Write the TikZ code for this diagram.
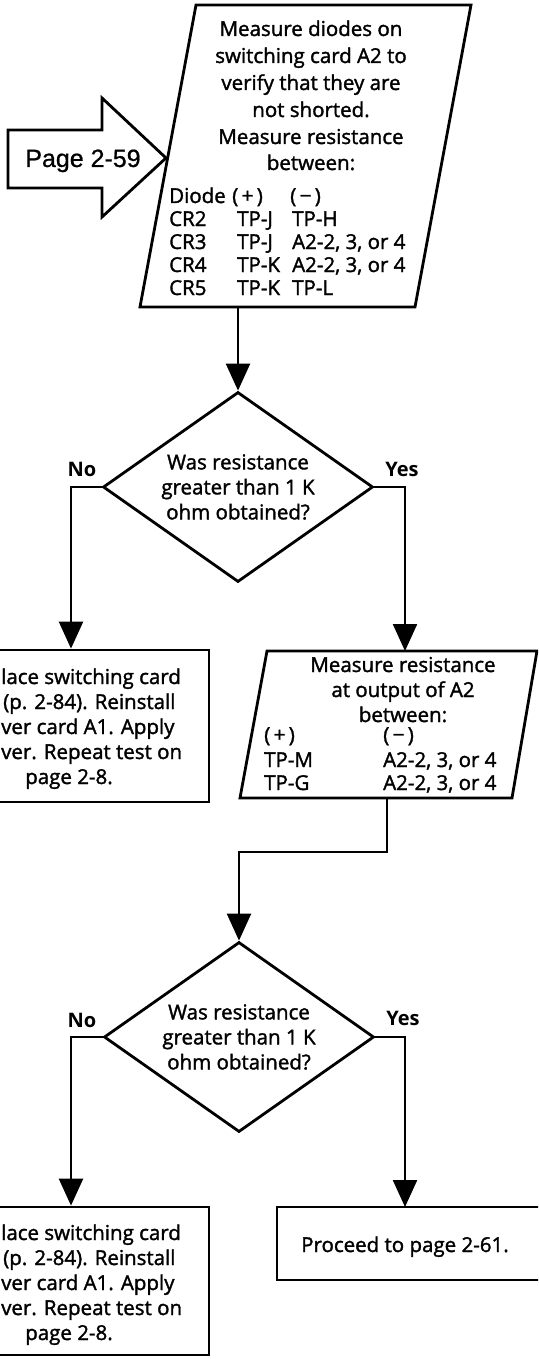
\documentclass[tikz,border=0pt]{standalone}
\usepackage{fontspec}
\setmainfont{Open Sans}
\newfontfamily\bodyfont{Open Sans}[FakeBold=1.6]
\newfontfamily\arialfont{Liberation Sans}[FakeBold=0.8]
\usetikzlibrary{arrows.meta,shapes.geometric}
\begin{document}
\begin{tikzpicture}[x=1pt,y=-1pt,
  box/.style={draw,line width=2.8pt,line join=miter},
  conn/.style={line width=2.4pt,-{Triangle[length=27pt,width=24pt]}},
  txt/.style={font=\bodyfont\fontsize{20.5}{25}\selectfont,inner sep=0pt},
  lbl/.style={font=\fontsize{20}{25}\selectfont\bfseries,inner sep=0pt},
  dec/.style={diamond,draw,line width=2.8pt,minimum width=270pt,minimum height=190pt,inner sep=0pt,aspect=1.42,align=center,font=\bodyfont\fontsize{20.5}{25}\selectfont},
  rbox/.style={draw,line width=2.8pt,inner sep=0pt},
]
\useasboundingbox (0,0) rectangle (538,1359);
\clip (0,0) rectangle (538,1359);

% Page arrow
\draw[box] (8,130) -- (102,130) -- (102,98) -- (166,158) -- (102,217) -- (102,188) -- (8,188) -- cycle;
\node[font=\arialfont\fontsize{25}{30}\selectfont,inner sep=0pt,anchor=base] (pg) at (83,167) {Page 2-59};

% top parallelogram
\draw[box] (196,5) -- (471,5) -- (415,307) -- (140,307) -- cycle;
\coordinate (p1out) at (238,307);
\node[txt,anchor=base] (t1) at (311,36) {Measure diodes on};
\node[txt,anchor=base] (t2) at (311,63) {switching card A2 to};
\node[txt,anchor=base] (t3) at (311,90) {verify that they are};
\node[txt,anchor=base] (t4) at (311,117) {not shorted.};
\node[txt,anchor=base] (t5) at (311,144) {Measure resistance};
\node[txt,anchor=base] (t6) at (311,170) {between:};
\node[txt,anchor=base west] (h1) at (169,203) {Diode};
\node[txt,anchor=base west] (h2) at (232,203) {(\,+\,)};
\node[txt,anchor=base west] (h3) at (290,203) {(\,−\,)};
\node[txt,anchor=base west] (r1a) at (169,226) {CR2};
\node[txt,anchor=base west] (r1b) at (237,226) {TP-J};
\node[txt,anchor=base west] (r1c) at (292,226) {TP-H};
\node[txt,anchor=base west] (r2a) at (169,249) {CR3};
\node[txt,anchor=base west] (r2b) at (237,249) {TP-J};
\node[txt,anchor=base west] (r2c) at (292,249) {A2-2, 3, or 4};
\node[txt,anchor=base west] (r3a) at (169,272) {CR4};
\node[txt,anchor=base west] (r3b) at (237,272) {TP-K};
\node[txt,anchor=base west] (r3c) at (292,272) {A2-2, 3, or 4};
\node[txt,anchor=base west] (r4a) at (169,295) {CR5};
\node[txt,anchor=base west] (r4b) at (237,295) {TP-K};
\node[txt,anchor=base west] (r4c) at (292,295) {TP-L};

% decision 1
\node[dec] (d1) at (238,487) {Was resistance\\greater than 1 K\\ohm obtained?};
\node[lbl] (no1) at (82,469) {No};
\node[lbl] (yes1) at (402,469) {Yes};
\draw[conn] (p1out) -- (d1.north);

% left box 1
\node[rbox,minimum width=276pt,minimum height=152pt] (b1) at (71,726) {};
\node[txt,anchor=base west] (b1a) at (1,684) {lace switching card};
\node[txt,anchor=base west] (b1b) at (3,709) {(p. 2-84). Reinstall};
\node[txt,anchor=base west] (b1c) at (1,734) {ver card A1. Apply};
\node[txt,anchor=base west] (b1d) at (1,759) {ver. Repeat test on};
\node[txt,anchor=base] (b1e) at (69,784) {page 2-8.};
\draw[conn] (d1.west) -| (b1.north);

% parallelogram 2
\draw[box] (267,651) -- (537,651) -- (512,798) -- (240,798) -- cycle;
\coordinate (p2in) at (405,651);
\coordinate (p2out) at (387,798);
\node[txt,anchor=base] (m1) at (403,672) {Measure resistance};
\node[txt,anchor=base] (m2) at (403,697) {at output of A2};
\node[txt,anchor=base] (m3) at (403,722) {between:};
\node[txt,anchor=base west] (mh1) at (264,742) {(\,+\,)};
\node[txt,anchor=base west] (mh2) at (383,742) {(\,−\,)};
\node[txt,anchor=base west] (mr1a) at (264,767) {TP-M};
\node[txt,anchor=base west] (mr1b) at (383,767) {A2-2, 3, or 4};
\node[txt,anchor=base west] (mr2a) at (264,790) {TP-G};
\node[txt,anchor=base west] (mr2b) at (383,790) {A2-2, 3, or 4};
\draw[conn] (d1.east) -| (p2in);

% decision 2
\node[dec] (d2) at (239,1037) {Was resistance\\greater than 1 K\\ohm obtained?};
\node[lbl] (no2) at (82,1020) {No};
\node[lbl] (yes2) at (403,1018) {Yes};
\draw[conn] (p2out) -- ++(0,54) -| (d2.north);

% left box 2
\node[rbox,minimum width=276pt,minimum height=148pt] (b2) at (71,1281) {};
\node[txt,anchor=base west] (b2a) at (1,1240) {lace switching card};
\node[txt,anchor=base west] (b2b) at (3,1265) {(p. 2-84). Reinstall};
\node[txt,anchor=base west] (b2c) at (1,1290) {ver card A1. Apply};
\node[txt,anchor=base west] (b2d) at (1,1315) {ver. Repeat test on};
\node[txt,anchor=base] (b2e) at (69,1340) {page 2-8.};
\draw[conn] (d2.west) -| (b2.north);

% proceed box
\node[rbox,minimum width=283pt,minimum height=73pt] (pb) at (418.5,1243.5) {};
\coordinate (pin) at (405,1207);
\node[txt,anchor=base] (pt) at (405,1252) {Proceed to page 2-61.};
\draw[conn] (d2.east) -| (pin);
\end{tikzpicture}
\end{document}
